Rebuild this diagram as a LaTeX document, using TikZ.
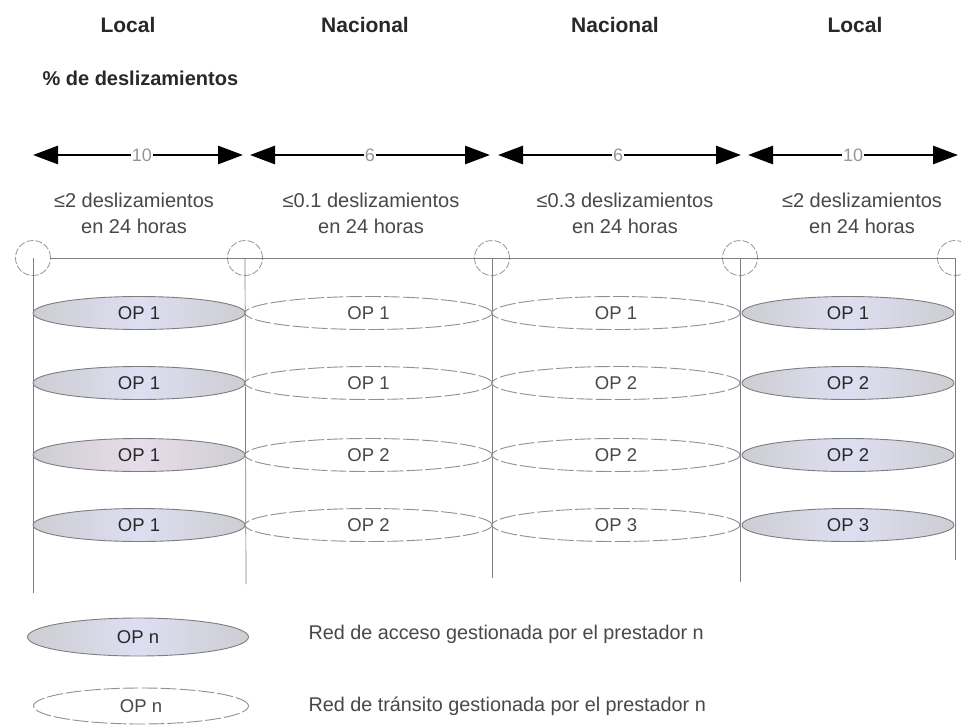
\documentclass[tikz,border=0pt]{standalone}
\usepackage{fontspec}
\setmainfont{Liberation Sans}
\usetikzlibrary{arrows.meta,shapes.geometric}
\definecolor{txt}{RGB}{40,40,40}
\definecolor{lgray}{RGB}{205,205,210}
\definecolor{lav}{RGB}{222,222,242}
\definecolor{lavp}{RGB}{232,220,234}
\definecolor{edgec}{RGB}{125,125,130}
\definecolor{numc}{RGB}{150,150,150}
\begin{document}
\begin{tikzpicture}[x=1pt,y=-1pt,
  title/.style={font=\fontsize{21}{24}\selectfont\bfseries, text=txt},
  subt/.style={font=\fontsize{20}{26}\selectfont, text=txt!85, align=center},
  num/.style={font=\fontsize{18}{20}\selectfont, text=numc, fill=white, inner sep=1pt},
  span/.style={line width=2.8pt, {Triangle[length=25pt,width=18pt]}-{Triangle[length=25pt,width=18pt]}},
  hub/.style={circle, draw=edgec!80, dash pattern=on 7pt off 2pt, line width=0.8pt, minimum size=35pt, inner sep=0pt},
  axisline/.style={draw=edgec, line width=0.9pt},
  acc/.style={ellipse, draw=edgec, line width=0.9pt, minimum height=33pt, inner sep=0pt,
    left color=lgray, right color=lgray, middle color=lav,
    font=\fontsize{18.5}{20}\selectfont, text=txt},
  tra/.style={ellipse, draw=edgec!85, dash pattern=on 16pt off 3pt, line width=0.9pt, fill=white,
    minimum height=33pt, inner sep=0pt, font=\fontsize{18.5}{20}\selectfont, text=txt!85},
  legtext/.style={font=\fontsize{19.8}{22}\selectfont, text=txt!85, anchor=west},
]
\useasboundingbox (0,0) rectangle (961,726);
\fill[white] (0,0) rectangle (961,726);

% titles
\node[title] (t1) at (128,25) {Local};
\node[title] (t2) at (365,25) {Nacional};
\node[title] (t3) at (615,25) {Nacional};
\node[title] (t4) at (855,25) {Local};
\node[font=\fontsize{20}{22}\selectfont\bfseries, text=txt, anchor=west] (pct) at (39,78) {\% de deslizamientos};

% spans
\coordinate (a1l) at (33,155);  \coordinate (a1r) at (243,155);
\coordinate (a2l) at (250,155); \coordinate (a2r) at (490,155);
\coordinate (a3l) at (498,155); \coordinate (a3r) at (741,155);
\coordinate (a4l) at (748,155); \coordinate (a4r) at (958,155);
\draw[span] (a1l) -- (a1r);
\draw[span] (a2l) -- (a2r);
\draw[span] (a3l) -- (a3r);
\draw[span] (a4l) -- (a4r);
\node[num] (n1) at (142,155) {10};
\node[num] (n2) at (370,155) {6};
\node[num] (n3) at (618,155) {6};
\node[num] (n4) at (853,155) {10};

\node[subt] (s1) at (134,213) {≤2 deslizamientos\\en 24 horas};
\node[subt] (s2) at (371,213) {≤0.1 deslizamientos\\en 24 horas};
\node[subt] (s3) at (625,213) {≤0.3 deslizamientos\\en 24 horas};
\node[subt] (s4) at (862,213) {≤2 deslizamientos\\en 24 horas};

% hubs and axis
\node[hub] (c1) at (33,258) {};
\node[hub] (c2) at (245,258) {};
\node[hub] (c3) at (492,258) {};
\node[hub] (c4) at (740,258) {};
\node[hub] (c5) at (955,258) {};
\draw[axisline] (c1.east) -- (c5.center);
\coordinate (b1) at (33,593);
\coordinate (b2) at (246,584);
\coordinate (b3) at (492,578);
\coordinate (b4) at (740,582);
\coordinate (b5) at (955,560);
\draw[draw=edgec, line width=0.7pt] (c1.center) -- (b1);
\draw[draw=edgec, line width=0.7pt] (c2.center) -- (b2);
\draw[draw=edgec, line width=0.7pt] (c3.center) -- (b3);
\draw[draw=edgec, line width=0.7pt] (c4.center) -- (b4);
\draw[draw=edgec, line width=0.7pt] (c5.center) -- (b5);

% row 1
\node[acc, minimum width=212pt] (e11) at (139,313) {OP 1};
\node[tra, minimum width=247pt] (e12) at (368.5,313) {OP 1};
\node[tra, minimum width=248pt] (e13) at (616,313) {OP 1};
\node[acc, minimum width=212pt] (e14) at (848,313) {OP 1};
% row 2
\node[acc, minimum width=212pt] (e21) at (139,383) {OP 1};
\node[tra, minimum width=247pt] (e22) at (368.5,383) {OP 1};
\node[tra, minimum width=248pt] (e23) at (616,383) {OP 2};
\node[acc, minimum width=212pt] (e24) at (848,383) {OP 2};
% row 3
\node[acc, minimum width=212pt, middle color=lavp] (e31) at (139,455) {OP 1};
\node[tra, minimum width=247pt] (e32) at (368.5,455) {OP 2};
\node[tra, minimum width=248pt] (e33) at (616,455) {OP 2};
\node[acc, minimum width=212pt] (e34) at (848,455) {OP 2};
% row 4
\node[acc, minimum width=212pt] (e41) at (139,525) {OP 1};
\node[tra, minimum width=247pt] (e42) at (368.5,525) {OP 2};
\node[tra, minimum width=248pt] (e43) at (616,525) {OP 3};
\node[acc, minimum width=212pt] (e44) at (848,525) {OP 3};

% legend
\node[acc, minimum width=221pt, minimum height=38pt] (l1) at (138,637) {OP n};
\node[tra, minimum width=215pt, minimum height=36pt] (l2) at (141,706) {OP n};
\node[legtext] (lt1) at (305,634) {Red de acceso gestionada por el prestador n};
\node[legtext] (lt2) at (305,706) {Red de tránsito gestionada por el prestador n};
\end{tikzpicture}
\end{document}
